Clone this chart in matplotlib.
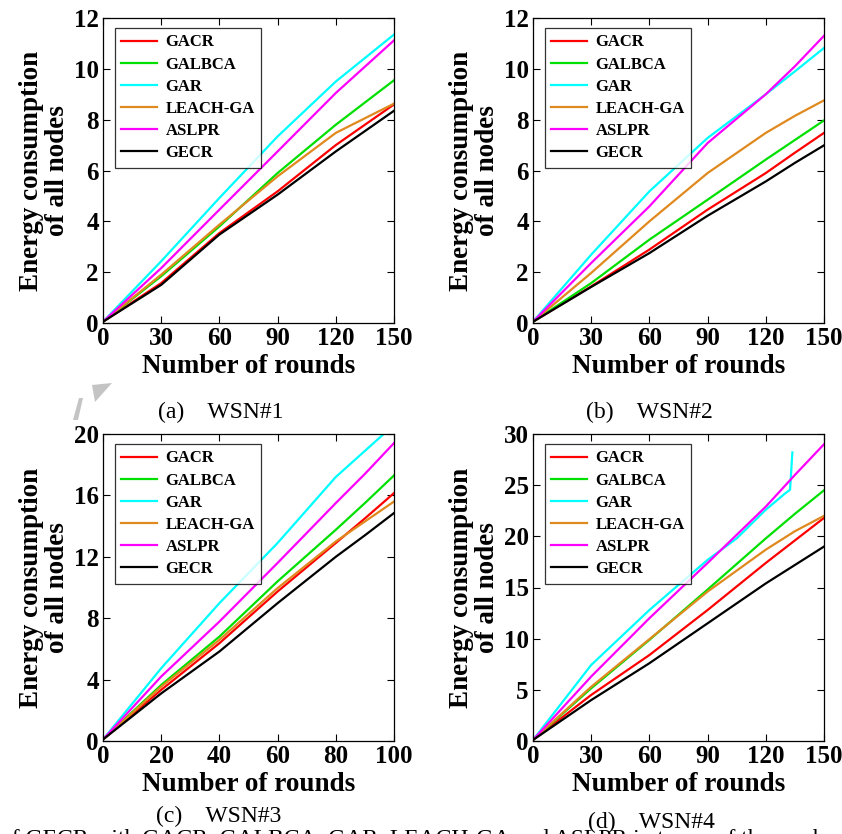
import matplotlib
matplotlib.use("Agg")
import matplotlib.pyplot as plt
from matplotlib.ticker import FixedLocator
from matplotlib.patches import Polygon

plt.rcParams['font.family'] = ['Liberation Serif', 'DejaVu Serif']

series_names = ["GACR", "GALBCA", "GAR", "LEACH-GA", "ASLPR", "GECR"]
series_colors = ["#ff0000", "#00e000", "#00ffff", "#e0891e", "#ff00ff", "#000000"]

# ---- WSN#1 ----
x_a = [0, 30, 60, 90, 120, 150]
a_gacr = [0.05, 1.57, 3.54, 5.18, 7.0, 8.6]
a_galbca = [0.05, 1.84, 3.8, 5.9, 7.8, 9.55]
a_gar = [0.05, 2.43, 4.92, 7.34, 9.5, 11.35]
a_leach = [0.05, 1.9, 3.87, 5.77, 7.48, 8.63]
a_aslpr = [0.05, 2.16, 4.46, 6.75, 9.05, 11.12]
a_gecr = [0.05, 1.5, 3.48, 5.05, 6.75, 8.35]

# ---- WSN#2 ----
x_b = [0, 30, 60, 90, 120, 135, 150]
b_gacr = [0.05, 1.44, 2.89, 4.46, 5.9, 6.7, 7.48]
b_galbca = [0.05, 1.57, 3.28, 4.85, 6.43, 7.2, 7.97]
b_gar = [0.05, 2.69, 5.18, 7.28, 9.0, 9.9, 10.82]
b_leach = [0.05, 1.97, 4.0, 5.9, 7.48, 8.15, 8.76]
b_aslpr = [0.05, 2.36, 4.59, 7.08, 9.0, 10.1, 11.3]
b_gecr = [0.05, 1.42, 2.75, 4.22, 5.57, 6.3, 6.99]

# ---- WSN#3 ----
x_c = [0, 20, 40, 60, 80, 90, 100]
c_gacr = [0.1, 3.33, 6.37, 9.74, 12.9, 14.5, 16.15]
c_galbca = [0.1, 3.65, 6.8, 10.4, 13.76, 15.5, 17.3]
c_gar = [0.1, 4.74, 8.98, 12.9, 17.2, 18.9, 20.6]
c_leach = [0.1, 3.54, 6.59, 9.96, 13.0, 14.3, 15.6]
c_aslpr = [0.1, 4.2, 7.78, 11.6, 15.5, 17.4, 19.41]
c_gecr = [0.1, 3.1, 5.83, 8.98, 12.0, 13.4, 14.85]

# ---- WSN#4 ----
x_d = [0, 30, 60, 90, 120, 135, 150]
d_gacr = [0.1, 4.5, 8.4, 12.8, 17.4, 19.6, 21.8]
d_galbca = [0.1, 5.15, 9.88, 14.8, 19.8, 22.2, 24.5]
d_leach = [0.1, 5.3, 9.95, 14.6, 18.7, 20.5, 22.0]
d_aslpr = [0.1, 6.3, 12.0, 17.4, 22.9, 26.0, 29.0]
d_gecr = [0.1, 4.0, 7.6, 11.5, 15.4, 17.2, 19.0]
x_d_gar = [0, 30, 60, 90, 105, 120, 130, 132.5, 133.7]
d_gar = [0.1, 7.43, 12.8, 17.7, 19.8, 22.6, 24.2, 24.55, 28.2]

panels = [
    dict(pos=[103, 18, 394, 323], xs=[x_a] * 6,
         ys=[a_gacr, a_galbca, a_gar, a_leach, a_aslpr, a_gecr],
         xlim=(0, 150), xticks=[0, 30, 60, 90, 120, 150],
         ylim=(0, 12), yticks=[0, 2, 4, 6, 8, 10, 12],
         cap="(a)    WSN#1", capxy=(221, 412)),
    dict(pos=[533, 18, 824, 323], xs=[x_b] * 6,
         ys=[b_gacr, b_galbca, b_gar, b_leach, b_aslpr, b_gecr],
         xlim=(0, 150), xticks=[0, 30, 60, 90, 120, 150],
         ylim=(0, 12), yticks=[0, 2, 4, 6, 8, 10, 12],
         cap="(b)    WSN#2", capxy=(649, 412)),
    dict(pos=[103, 434, 394, 741], xs=[x_c] * 6,
         ys=[c_gacr, c_galbca, c_gar, c_leach, c_aslpr, c_gecr],
         xlim=(0, 100), xticks=[0, 20, 40, 60, 80, 100],
         ylim=(0, 20), yticks=[0, 4, 8, 12, 16, 20],
         cap="(c)    WSN#3", capxy=(219, 816)),
    dict(pos=[533, 434, 824, 741], xs=[x_d, x_d, x_d_gar, x_d, x_d, x_d],
         ys=[d_gacr, d_galbca, d_gar, d_leach, d_aslpr, d_gecr],
         xlim=(0, 150), xticks=[0, 30, 60, 90, 120, 150],
         ylim=(0, 30), yticks=[0, 5, 10, 15, 20, 25, 30],
         cap="(d)    WSN#4", capxy=(651, 822)),
]

W, H = 842, 834
fig = plt.figure(figsize=(W / 100, H / 100), dpi=100)

# faint gray watermark fragments
fig.patches.append(Polygon([(92 / W, 1 - 385 / H), (112 / W, 1 - 383 / H), (95 / W, 1 - 402 / H)],
                           closed=True, transform=fig.transFigure, facecolor="#c4c4c4",
                           edgecolor="none"))
fig.patches.append(Polygon([(79 / W, 1 - 398 / H), (83 / W, 1 - 398 / H), (78 / W, 1 - 420 / H),
                            (73 / W, 1 - 420 / H)],
                           closed=True, transform=fig.transFigure, facecolor="#c4c4c4",
                           edgecolor="none"))

for p in panels:
    l, t, r, b = p["pos"]
    ax = fig.add_axes([l / W, 1 - b / H, (r - l) / W, (b - t) / H])
    for xs, ys, name, col in zip(p["xs"], p["ys"], series_names, series_colors):
        ax.plot(xs, ys, color=col, lw=1.6, label=name)
    ax.set_xlim(*p["xlim"])
    ax.set_ylim(*p["ylim"])
    ax.xaxis.set_major_locator(FixedLocator(p["xticks"]))
    ax.yaxis.set_major_locator(FixedLocator(p["yticks"]))
    ax.tick_params(direction="in", length=5, width=0.8, top=True, right=True,
                   labelsize=18, pad=3)
    for lab in ax.get_xticklabels() + ax.get_yticklabels():
        lab.set_fontweight("bold")
    for s in ax.spines.values():
        s.set_linewidth(0.9)
    ax.set_xlabel("Number of rounds", fontsize=19.5, fontweight="bold", labelpad=3)
    ax.set_ylabel("Energy consumption\nof all nodes", fontsize=19.5, fontweight="bold",
                  labelpad=3, linespacing=1.05)
    leg = ax.legend(loc="upper left", bbox_to_anchor=(0.04, 0.968),
                    prop={"weight": "bold", "size": 12}, frameon=True, fancybox=False,
                    edgecolor="black", handlelength=2.15, handletextpad=0.5,
                    labelspacing=0.37, borderpad=0.4, borderaxespad=0.0)
    leg.get_frame().set_linewidth(0.9)
    cx, cy = p["capxy"]
    fig.text(cx / W, 1 - cy / H, p["cap"], fontsize=17, ha="center", va="center")

fig.text(0 / W, 1 - 829 / H,
         "of GECR with GACR, GALBCA, GAR, LEACH-GA and ASLPR in terms of the work",
         fontsize=17, ha="left", va="top")

fig.savefig("out.png", dpi=100)
